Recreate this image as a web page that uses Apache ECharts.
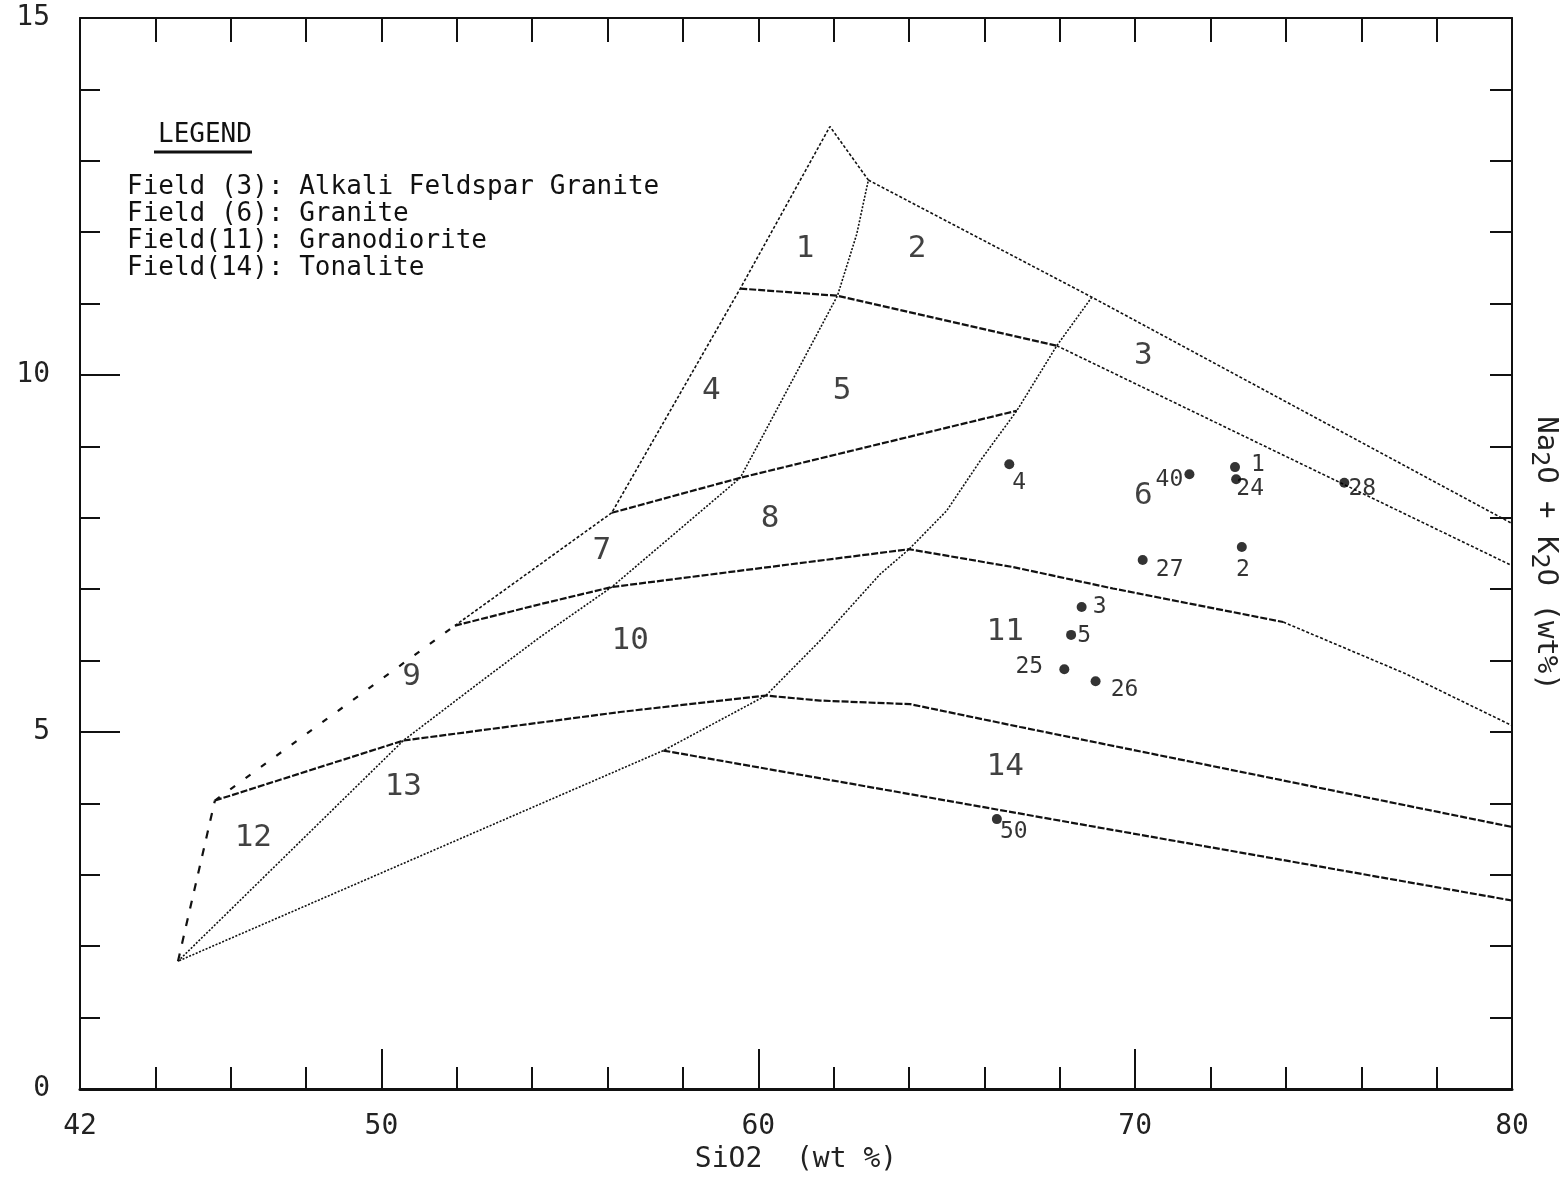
<!DOCTYPE html>
<html><head><meta charset="utf-8">
<script src="https://cdn.jsdelivr.net/npm/echarts@6/dist/echarts.min.js"></script>
<style>html,body{margin:0;padding:0;background:#fff}#c{width:1560px;height:1178px}</style>
</head><body><div id="c"></div>
<script>
// ---------------- data ----------------
const xTickLabels = [42, 50, 60, 70, 80];
const yTickLabels = [0, 5, 10, 15];

const sampleIds  = ['4', '40', '1', '24', '28', '2', '27', '3', '5', '25', '26', '50'];
const sampleSiO2 = [66.66, 71.44, 72.65, 72.68, 75.55, 72.83, 70.20, 68.58, 68.30, 68.12, 68.95, 66.33];
const sampleAlk  = [8.75, 8.61, 8.71, 8.54, 8.49, 7.59, 7.41, 6.75, 6.36, 5.88, 5.71, 3.78];

const fieldNames = ['1', '2', '3', '4', '5', '6', '7', '8', '9', '10', '11', '12', '13', '14'];
const fieldSiO2  = [61.24, 64.21, 70.22, 58.75, 62.22, 70.22, 55.85, 60.31, 50.80, 56.60, 66.55, 46.60, 50.58, 66.55];
const fieldAlk   = [11.76, 11.76, 10.27, 9.78, 9.78, 8.31, 7.54, 7.98, 5.77, 6.28, 6.40, 3.51, 4.23, 4.51];

// field boundary lines [SiO2, Na2O+K2O]
const lineAB      = [[44.60, 1.79], [45.58, 4.04]];
const lineBC      = [[45.58, 4.04], [51.95, 6.49]];
const lineOutline = [[51.95, 6.49], [56.11, 8.07], [59.52, 11.21], [61.90, 13.48], [62.92, 12.73]];
const lineTop     = [[62.92, 12.73], [68.85, 11.09], [80, 7.92]];
const lineEHI     = [[59.52, 11.21], [62.10, 11.11], [67.92, 10.41]];
const lineIend    = [[67.92, 10.41], [80, 7.33]];
const lineDK      = [[56.11, 8.07], [59.52, 8.56], [66.86, 9.50]];
const curveA      = [[44.60, 1.79], [50.58, 4.88], [52.62, 5.70], [54.21, 6.33], [56.11, 7.03], [59.52, 8.56], [60.05, 9.08], [62.10, 11.11], [62.61, 11.97], [62.92, 12.73]];
const curveJ      = [[68.85, 11.09], [67.92, 10.41], [66.86, 9.50], [65.89, 8.80], [65.00, 8.10], [64.00, 7.56], [63.23, 7.21], [61.64, 6.28], [60.20, 5.51], [57.48, 4.74], [44.60, 1.79]];
const line7       = [[51.95, 6.49], [54.21, 6.79], [56.11, 7.03], [64.00, 7.56], [66.76, 7.31], [69.41, 7.01], [73.93, 6.54]];
const line7end    = [[73.93, 6.54], [77.16, 5.82], [80, 5.09]];
const line10      = [[45.58, 4.04], [50.58, 4.88], [56.33, 5.28], [60.20, 5.51], [61.64, 5.44], [64.03, 5.39], [66.95, 5.07], [80, 3.67]];
const line14      = [[57.48, 4.74], [80, 2.64]];

const legendLines = [
  'Field (3): Alkali Feldspar Granite',
  'Field (6): Granite',
  'Field(11): Granodiorite',
  'Field(14): Tonalite'
];

// ---------------- styles ----------------
const INK = '#111';
const MONO = '"DejaVu Sans Mono", "Liberation Mono", monospace';
const styles = {
  heavy:  { color: INK, width: 2.2, type: [7, 2] },
  fine:   { color: INK, width: 1.6, type: [3, 2] },
  dotted: { color: INK, width: 1.6, type: [2, 1.6] },
  sparse: { color: INK, width: 2.2, type: [6, 13] },
  sparse2:{ color: INK, width: 2.2, type: [8, 10] }
};
const labelOffsets = {
  '4': [10, 19], '40': [-20, 6], '1': [23, -2], '24': [14, 10], '28': [18, 6], '2': [1, 23],
  '27': [27, 10], '3': [18, 0], '5': [13, 1], '25': [-35, -2], '26': [29, 9], '50': [17, 13]
};

function lineSeries(data, st) {
  return {
    type: 'line', data: data, xAxisIndex: 0, yAxisIndex: 0,
    symbol: 'none', showSymbol: false, silent: true, animation: false,
    lineStyle: styles[st], z: 3
  };
}

const chart = echarts.init(document.getElementById('c'), null, { renderer: 'canvas' });

const option = {
  backgroundColor: '#fff',
  animation: false,
  grid: { left: 80, right: 48, top: 18, bottom: 89, containLabel: false, outerBoundsMode: 'none' },
  xAxis: [
    {
      type: 'value', position: 'bottom', min: 42, max: 80, interval: 2,
      axisLine: { show: true, onZero: false, lineStyle: { color: INK, width: 3 } },
      axisTick: { show: true, inside: true, length: 22, lineStyle: { color: INK, width: 2 } },
      axisLabel: {
        show: true, margin: 24, color: '#222', fontFamily: MONO, fontSize: 28,
        formatter: v => (xTickLabels.indexOf(v) >= 0 ? String(v) : '')
      },
      splitLine: { show: false },
      name: 'SiO2  (wt %)', nameLocation: 'middle', nameGap: 57,
      nameTextStyle: { color: '#222', fontFamily: MONO, fontSize: 28 }
    },
    {
      type: 'value', position: 'bottom', min: 42, max: 80,
      axisLine: { show: false, onZero: false },
      axisTick: { show: true, inside: true, length: 40, customValues: [50, 60, 70], lineStyle: { color: INK, width: 2 } },
      axisLabel: { show: false }, splitLine: { show: false }
    },
    {
      type: 'value', position: 'top', min: 42, max: 80, interval: 2,
      axisLine: { show: true, onZero: false, lineStyle: { color: INK, width: 2 } },
      axisTick: { show: true, inside: true, length: 24, lineStyle: { color: INK, width: 2 } },
      axisLabel: { show: false }, splitLine: { show: false }
    }
  ],
  yAxis: [
    {
      type: 'value', position: 'left', min: 0, max: 15, interval: 1,
      axisLine: { show: true, onZero: false, lineStyle: { color: INK, width: 2 } },
      axisTick: { show: true, inside: true, length: 20, lineStyle: { color: INK, width: 2 } },
      axisLabel: {
        show: true, margin: 30, color: '#222', fontFamily: MONO, fontSize: 28,
        formatter: v => (yTickLabels.indexOf(v) >= 0 ? String(v) : '')
      },
      splitLine: { show: false }
    },
    {
      type: 'value', position: 'left', min: 0, max: 15, interval: 5,
      axisLine: { show: false, onZero: false },
      axisTick: { show: true, inside: true, length: 40, lineStyle: { color: INK, width: 2 } },
      axisLabel: { show: false }, splitLine: { show: false }
    },
    {
      type: 'value', position: 'right', min: 0, max: 15, interval: 1,
      axisLine: { show: true, onZero: false, lineStyle: { color: INK, width: 2 } },
      axisTick: { show: true, inside: true, length: 22, lineStyle: { color: INK, width: 2 } },
      axisLabel: { show: false }, splitLine: { show: false },
      name: '{a|Na}{s|2}{a|O + K}{s|2}{a|O (wt%)}',
      nameLocation: 'middle', nameRotate: -90, nameGap: 14,
      nameTextStyle: {
        color: '#222',
        rich: {
          a: { fontFamily: MONO, fontSize: 29, lineHeight: 40, color: '#222' },
          s: { fontFamily: MONO, fontSize: 25, lineHeight: 40, verticalAlign: 'bottom', color: '#222' }
        }
      }
    }
  ],
  graphic: [
    {
      type: 'text', left: 158, top: 122, silent: true,
      style: { text: 'LEGEND', font: '26px ' + MONO, fill: '#111' }
    },
    {
      type: 'line', silent: true,
      shape: { x1: 154, y1: 152, x2: 252, y2: 152 },
      style: { stroke: '#111', lineWidth: 3 }
    },
    {
      type: 'text', left: 127, top: 174, silent: true,
      style: { text: legendLines.join('\n'), font: '26px ' + MONO, lineHeight: 27, fill: '#111' }
    }
  ],
  series: [
    lineSeries(lineAB, 'sparse2'),
    lineSeries(lineBC, 'sparse'),
    lineSeries(lineOutline, 'fine'),
    lineSeries(lineTop, 'fine'),
    lineSeries(lineEHI, 'heavy'),
    lineSeries(lineIend, 'fine'),
    lineSeries(lineDK, 'heavy'),
    lineSeries(curveA, 'dotted'),
    lineSeries(curveJ, 'dotted'),
    lineSeries(line7, 'heavy'),
    lineSeries(line7end, 'fine'),
    lineSeries(line10, 'heavy'),
    lineSeries(line14, 'heavy'),
    {
      type: 'scatter', xAxisIndex: 0, yAxisIndex: 0, silent: true, z: 5,
      symbol: 'circle', symbolSize: 10,
      itemStyle: { color: '#000' },
      label: {
        show: true, position: 'inside', formatter: p => p.name,
        fontFamily: MONO, fontSize: 23, color: '#000'
      },
      data: sampleIds.map((id, i) => ({
        name: id, value: [sampleSiO2[i], sampleAlk[i]],
        label: { offset: labelOffsets[id] }
      }))
    },
    {
      type: 'scatter', xAxisIndex: 0, yAxisIndex: 0, silent: true, z: 4,
      symbol: 'circle', symbolSize: 1,
      itemStyle: { color: 'rgba(0,0,0,0)' },
      label: {
        show: true, position: 'inside', formatter: p => p.name,
        fontFamily: MONO, fontSize: 31, color: '#111'
      },
      data: fieldNames.map((n, i) => ({ name: n, value: [fieldSiO2[i], fieldAlk[i]] }))
    }
  ]
};
chart.setOption(option);
</script></body></html>
